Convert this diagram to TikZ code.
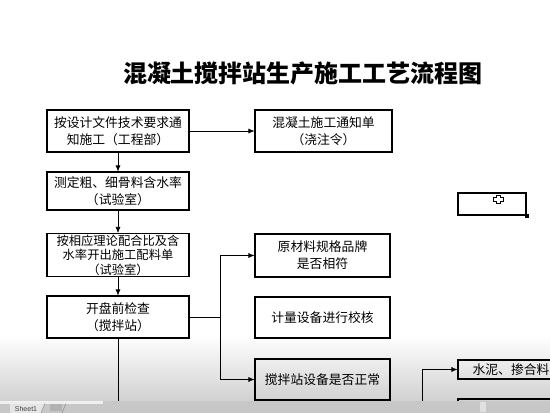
\documentclass[tikz,border=0pt]{standalone}
\usepackage{fontspec}
\newfontfamily\cjk{Noto Sans CJK SC}
\setsansfont{Liberation Sans}
\usetikzlibrary{arrows.meta}
\begin{document}
\begin{tikzpicture}[x=1pt,y=-1pt,
  box/.style={draw, line width=1.1pt, inner sep=0pt, align=center,
    font=\cjk\fontsize{12.8}{17}\selectfont},
  conn/.style={line width=0.6pt, -{Latex[length=6pt,width=5pt]}},
  plain/.style={line width=0.6pt}]
\useasboundingbox (0,0) rectangle (550,413);
\fill[white] (0,0) rectangle (550,413);
% screen glare gradient
\shade[top color=white, bottom color=black!18] (0,335) rectangle (550,401);

% title
\node[font=\cjk\bfseries\fontsize{24}{24}\selectfont] (title) at (303,73) {混凝土搅拌站生产施工工艺流程图};

% left column
\node[box, minimum width=142pt, minimum height=42pt] (b1) at (118,131) {按设计文件技术要求通\\知施工（工程部）};
\node[box, minimum width=142pt, minimum height=38pt] (b2) at (118,191) {测定粗、细骨料含水率\\（试验室）};
\node[box, minimum width=142pt, minimum height=43pt,
  font=\cjk\fontsize{12.3}{14.5}\selectfont] (b3) at (118,255) {按相应理论配合比及含\\水率开出施工配料单\\（试验室）};
\node[box, minimum width=142pt, minimum height=42pt] (b4) at (118,317) {开盘前检查\\（搅拌站）};

% middle column
\node[box, minimum width=137pt, minimum height=42pt] (b5) at (323.5,131) {混凝土施工通知单\\（浇注令）};
\node[box, minimum width=135pt, minimum height=43pt] (b6) at (322.5,255.5) {原材料规格品牌\\是否相符};
\node[box, minimum width=135pt, minimum height=41pt] (b7) at (322.5,317.5) {计量设备进行校核};
\node[box, minimum width=135pt, minimum height=41pt] (b8) at (322.5,379.5) {搅拌站设备是否正常};

% right column
\node[draw, line width=2pt, minimum width=68pt, minimum height=22pt, inner sep=0pt] (cell) at (492,204) {};
\fill (cell.south east) ++(-2,-2) rectangle ++(4,4);
\draw[fill=white, line width=0.6pt]
  (496,195) -- (500,195) -- (500,197) -- (503,197) -- (503,201) -- (500,201) -- (500,203)
  -- (496,203) -- (496,201) -- (493,201) -- (493,197) -- (496,197) -- cycle;
\node[box, minimum width=106pt, minimum height=19pt] (b9) at (511,369.5) {水泥、掺合料};
\node[box, minimum width=106pt, minimum height=42pt] (b10) at (511,420) {};

% connectors
\draw[conn] (b1.east) -- (b5.west);
\draw[conn] (b1.south) -- (b2.north);
\draw[conn] (b2.south) -- (b3.north);
\draw[conn] (b3.south) -- (b4.north);
\coordinate (j) at (220,317);
\draw[plain] (b4.east) -- (j);
\draw[conn] (j) |- (b6.west);
\draw[conn] (j) |- (b8.west);
\coordinate (e1) at (118,401);
\draw[plain] (b4.south) -- (e1);
\coordinate (k) at (422,401);
\draw[conn] (k) |- (b9.west);

% sheet tab bar
\fill[black!22] (0,401) rectangle (550,413);
\fill[black!6] (0,401) rectangle (103,403.5);
\fill[black!10] (10,403.5) -- (45,403.5) -- (41,413) -- (10,413) -- cycle;
\draw[black!50, line width=0.4pt] (45,403.5) -- (41,413);
\node[font=\sffamily\fontsize{7}{7}\selectfont, text=black!75, inner sep=0pt] (tab) at (26,408.5) {Sheet1};
\fill[black!30] (50,404) rectangle (62,411);
\draw[black!50, line width=0.4pt] (66,403.5) -- (62,413);
\fill[black!12] (480,402) rectangle (486,412);
\end{tikzpicture}
\end{document}
